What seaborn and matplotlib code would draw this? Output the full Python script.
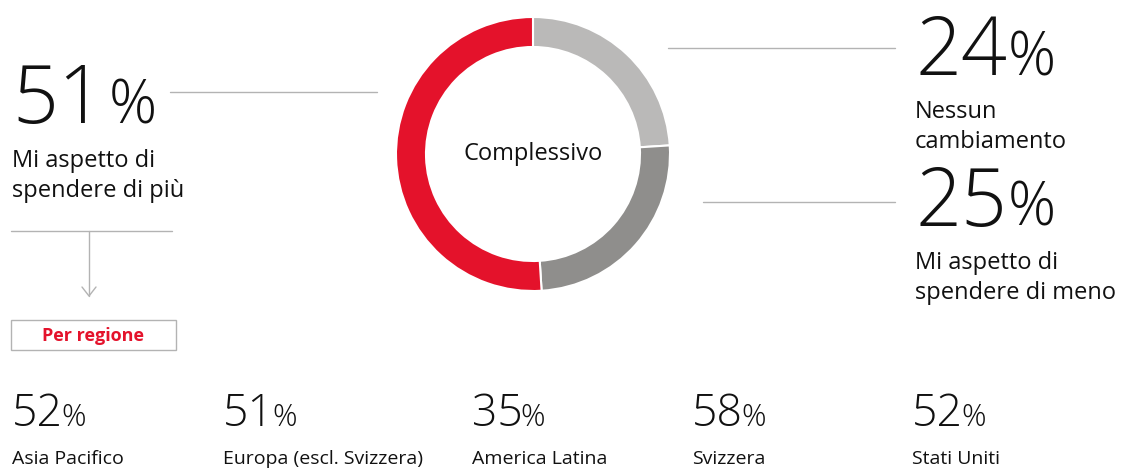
import matplotlib
matplotlib.use("Agg")
import matplotlib.pyplot as plt
import seaborn as sns

# ---------------------------------
# Data
# ---------------------------------

overall_labels = ["Nessun\ncambiamento", "Mi aspetto di\nspendere di meno", "Mi aspetto di\nspendere di più"]
overall_values = [24, 25, 51]
overall_colors = ["#BAB9B8", "#8F8E8C", "#E4122B"]
centre_label = "Complessivo"

regions = ["Asia Pacifico", "Europa (escl. Svizzera)", "America Latina", "Svizzera", "Stati Uniti"]
region_values = [52, 51, 35, 58, 52]
region_title = "Per regione"

# ---------------------------------
# Style
# ---------------------------------

sns.set_theme(style="white")
plt.rcParams["font.family"] = ["Open Sans", "DejaVu Sans"]

W, H = 1128, 469
TEXT = "#111111"
LINE = "#B3B3B3"
RED = overall_colors[2]

fig = plt.figure(figsize=(W / 100, H / 100), dpi=100)
fig.patch.set_facecolor("white")

ax = fig.add_axes([0, 0, 1, 1])
ax.set_xlim(0, W)
ax.set_ylim(H, 0)
ax.axis("off")

# ---------------------------------
# Donut
# ---------------------------------

cx, cy, r_out, ring = 533, 154, 137, 30
pax = fig.add_axes([(cx - r_out) / W, (H - cy - r_out) / H, 2 * r_out / W, 2 * r_out / H])
pax.pie(
    overall_values,
    colors=overall_colors,
    startangle=90,
    counterclock=False,
    radius=1,
    wedgeprops=dict(width=ring / r_out, edgecolor="white", linewidth=1.5),
)
pax.set_xlim(-1, 1)
pax.set_ylim(-1, 1)
pax.set_aspect("equal")
pax.axis("off")
pax.text(0, 0, centre_label, ha="center", va="center", fontsize=17, color=TEXT)

fig.canvas.draw()
renderer = fig.canvas.get_renderer()


def big_number(x, y, value, size, pct_size, gap=4):
    t = ax.text(x, y, f"{value}", fontsize=size, color=TEXT, va="baseline", ha="left", fontweight="light")
    bb = t.get_window_extent(renderer)
    x_end = ax.transData.inverted().transform((bb.x1, 0))[0]
    ax.text(x_end + gap, y, "%", fontsize=pct_size, color=TEXT, va="baseline", ha="left", fontweight="light")


def label(x, y, txt, size):
    lines = txt.split("\n")
    for i, line in enumerate(lines):
        ax.text(x, y + i * size * 1.75, line, fontsize=size, color=TEXT, va="baseline", ha="left")


# left: more spending
big_number(12, 123, overall_values[2], 58, 43, gap=5)
label(12, 167, overall_labels[2], 17)
ax.plot([170, 377], [92, 92], color=LINE, lw=1)

# right top: no change
big_number(915, 75, overall_values[0], 58, 43, gap=1)
label(915, 118, overall_labels[0], 17)
ax.plot([668, 895], [48, 48], color=LINE, lw=1)

# right bottom: less spending
big_number(915, 226, overall_values[1], 58, 43, gap=1)
label(915, 269, overall_labels[1], 17)
ax.plot([703, 895], [202, 202], color=LINE, lw=1)

# arrow to regions
ax.plot([11, 172], [231, 231], color=LINE, lw=1)
ax.plot([89, 89], [231, 296], color=LINE, lw=1)
ax.plot([82, 89, 96], [287, 296, 287], color=LINE, lw=1)

# region box
ax.add_patch(plt.Rectangle((11, 320), 165, 30, fill=False, edgecolor=LINE, lw=1))
ax.text(93, 341, region_title, fontsize=13, color=RED, fontweight="bold", ha="center", va="baseline")

# ---------------------------------
# Regions
# ---------------------------------

region_x = [12, 223, 472, 692, 912]
for xr, name, val in zip(region_x, regions, region_values):
    big_number(xr, 426, val, 32, 22, gap=-2)
    ax.text(xr, 464, name, fontsize=14, color=TEXT, va="baseline", ha="left")

fig.savefig("out.png", dpi=100, facecolor="white")
